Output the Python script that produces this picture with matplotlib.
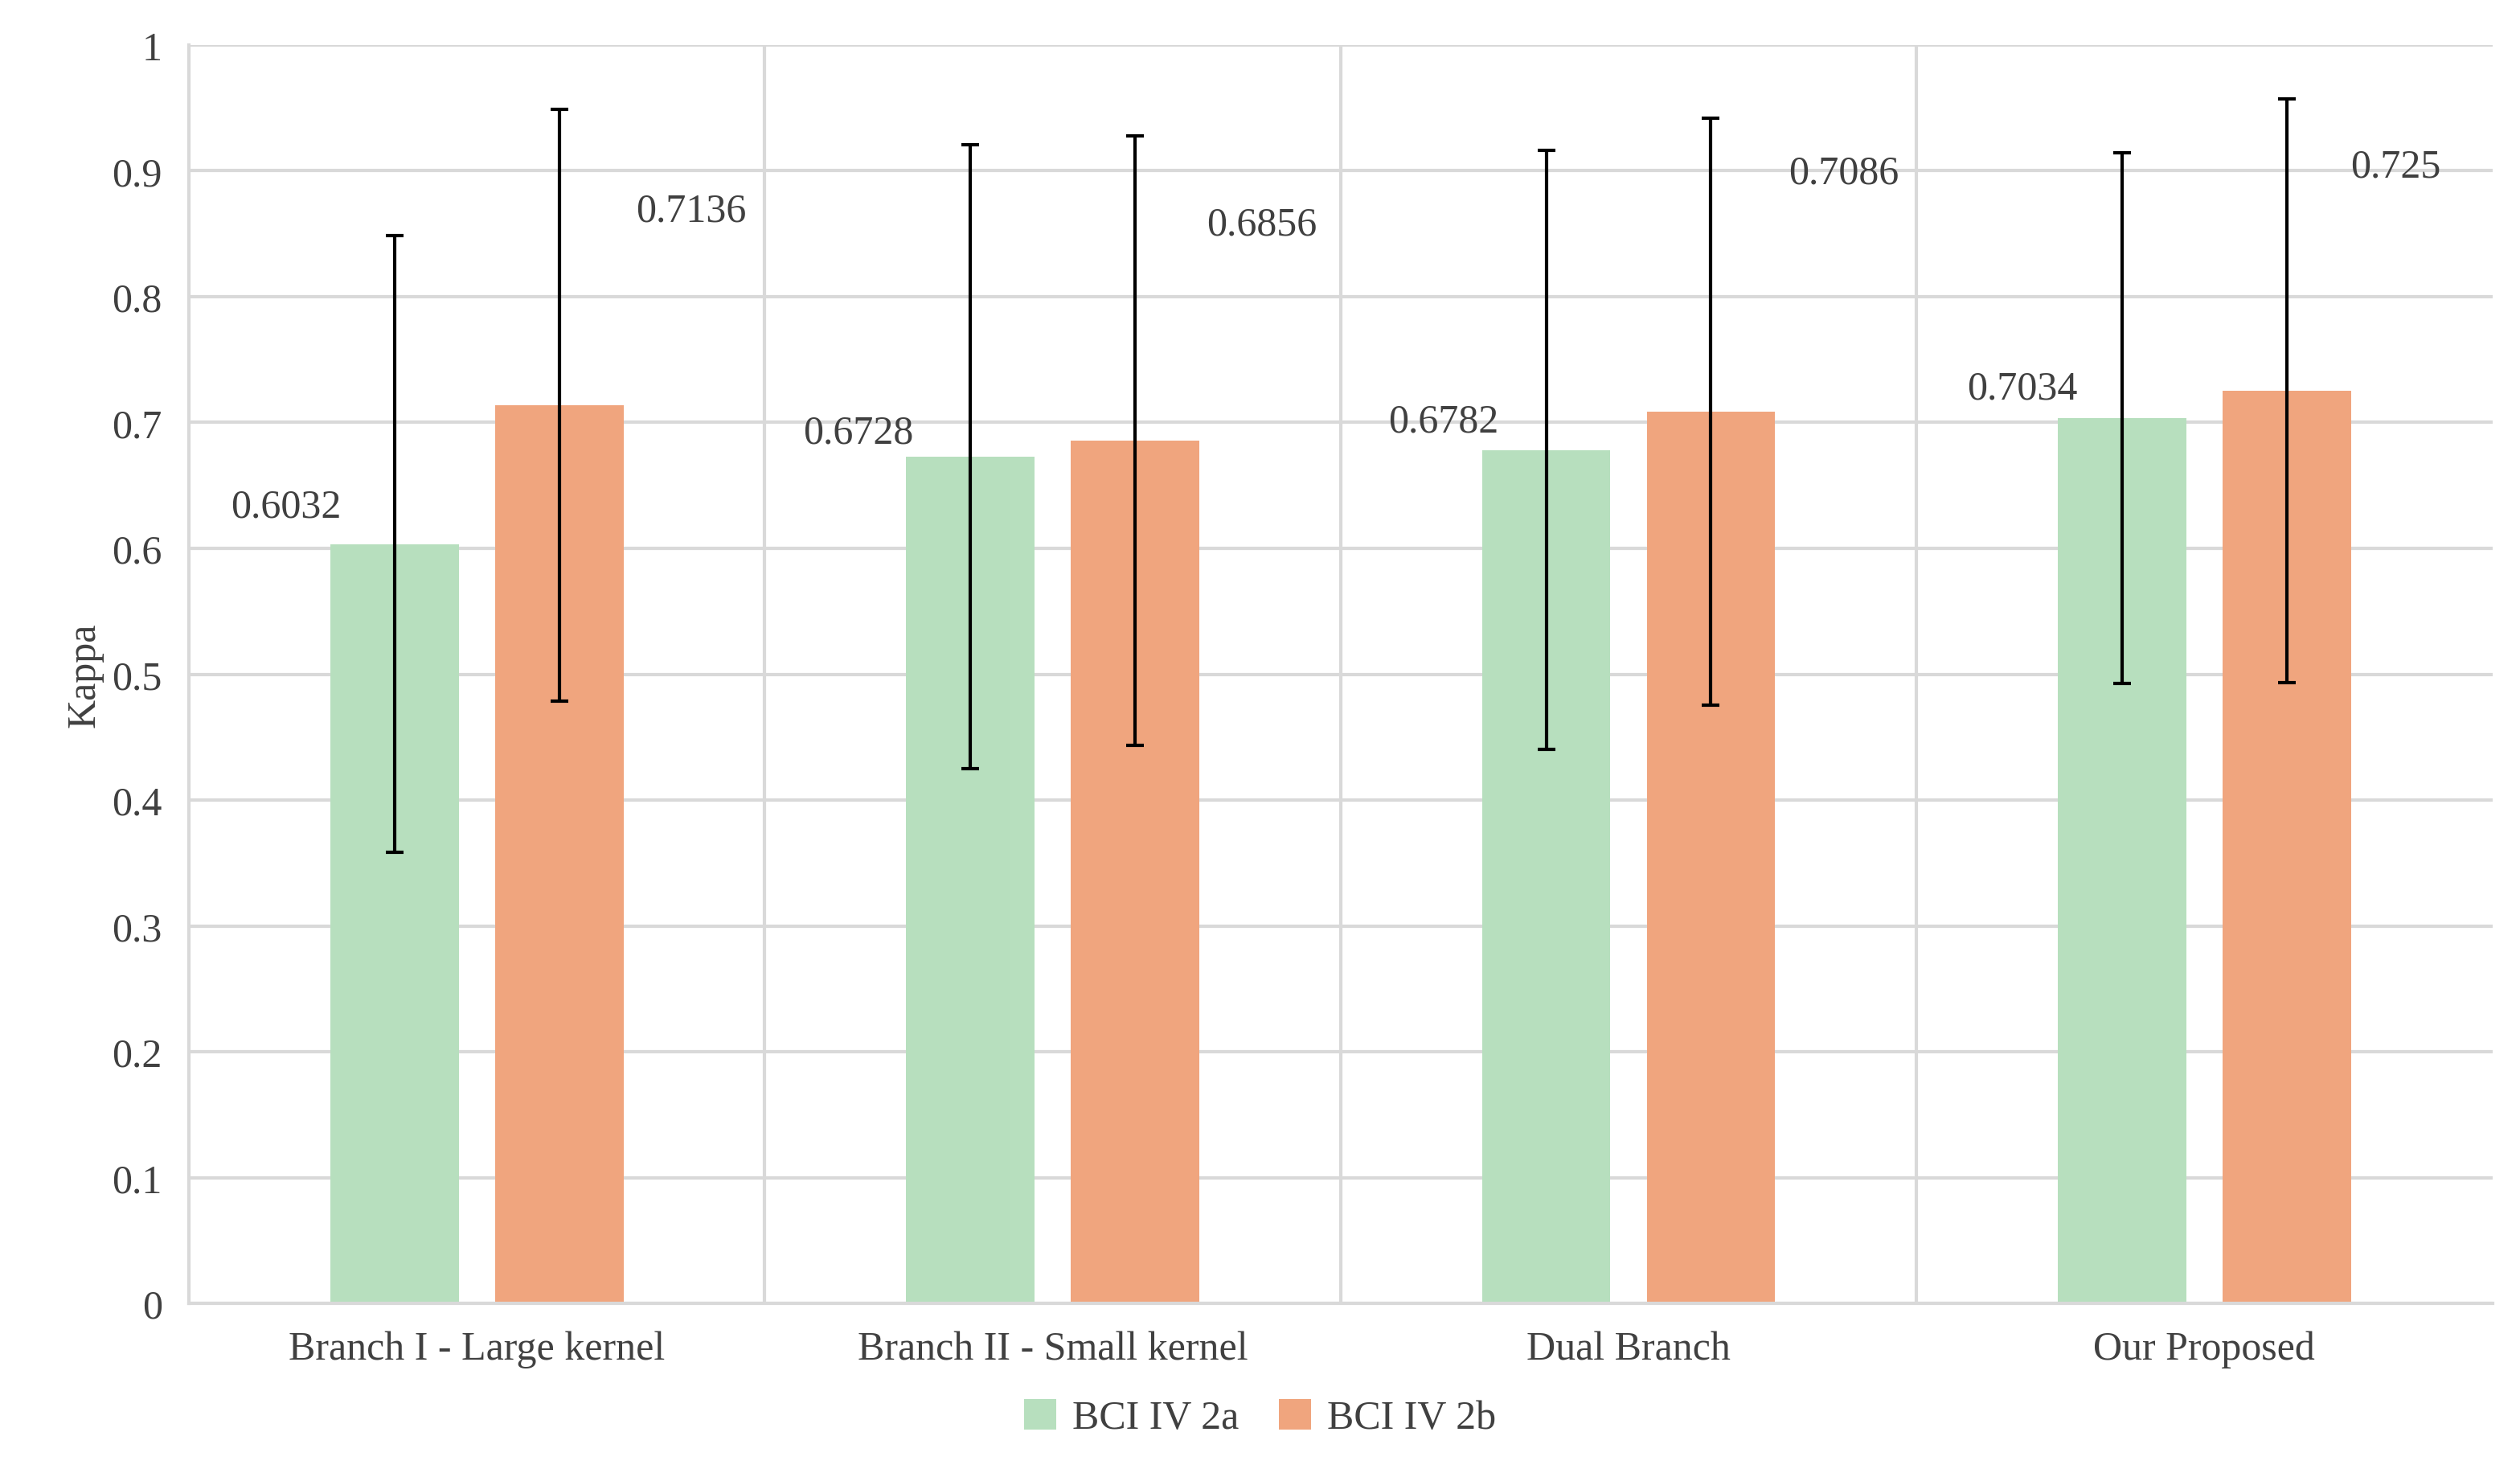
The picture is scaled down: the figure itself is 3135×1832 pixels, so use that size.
import matplotlib
matplotlib.use("Agg")
import matplotlib.pyplot as plt
import numpy as np

categories = ["Branch I - Large kernel", "Branch II - Small kernel", "Dual Branch", "Our Proposed"]
kappa_2a = [0.6032, 0.6728, 0.6782, 0.7034]
kappa_2b = [0.7136, 0.6856, 0.7086, 0.725]
err_2a = [0.245, 0.248, 0.238, 0.211]
err_2b = [0.235, 0.242, 0.233, 0.232]
labels_2a = ["0.6032", "0.6728", "0.6782", "0.7034"]
labels_2b = ["0.7136", "0.6856", "0.7086", "0.725"]

plt.rcParams["font.family"] = "Liberation Serif"
fig = plt.figure(figsize=(15.675, 9.165), dpi=200)
ax = fig.add_axes([0.075, 0.115, 0.914, 0.854])

x = np.arange(len(categories))
w = 0.223
off = 0.143
ax.bar(x - off, kappa_2a, w, color="#B7DFBE", label="BCI IV 2a", zorder=2)
ax.bar(x + off, kappa_2b, w, color="#F0A57E", label="BCI IV 2b", zorder=2)
ax.errorbar(x - off, kappa_2a, yerr=err_2a, fmt="none", ecolor="black", elinewidth=1.5, capsize=4, capthick=1.5, zorder=3)
ax.errorbar(x + off, kappa_2b, yerr=err_2b, fmt="none", ecolor="black", elinewidth=1.5, capsize=4, capthick=1.5, zorder=3)

# value labels, placed like the original (green left-top, orange right-high)
pos_2a = [(-0.332, 0.633), (0.662, 0.692), (1.679, 0.701), (2.684, 0.727)]
pos_2b = [(0.372, 0.868), (1.363, 0.857), (2.374, 0.898), (3.332, 0.903)]
for (px, py), t in zip(pos_2a, labels_2a):
    ax.text(px, py, t, ha="center", va="center", fontsize=18, color="#404040")
for (px, py), t in zip(pos_2b, labels_2b):
    ax.text(px, py, t, ha="center", va="center", fontsize=18, color="#404040")

ax.set_xlim(-0.5, 3.5)
ax.set_ylim(0, 1)
ax.set_yticks(np.arange(0, 1.01, 0.1))
ax.set_yticklabels(["0", "0.1", "0.2", "0.3", "0.4", "0.5", "0.6", "0.7", "0.8", "0.9", "1"])
ax.set_xticks(x)
ax.set_xticklabels(categories)
ax.tick_params(axis="both", length=0, labelsize=18, labelcolor="#404040", pad=12)
ax.grid(axis="y", color="#D9D9D9", linewidth=1.5, zorder=0)
for b in [0.5, 1.5, 2.5]:
    ax.axvline(b, color="#D9D9D9", linewidth=1.5, zorder=0)
for s in ["top", "right"]:
    ax.spines[s].set_visible(False)
ax.spines["left"].set_color("#D9D9D9")
ax.spines["bottom"].set_color("#D9D9D9")
ax.spines["left"].set_linewidth(1.5)
ax.spines["bottom"].set_linewidth(1.5)
ax.set_ylabel("Kappa", fontsize=18, color="#404040")

fig.legend(loc="lower center", bbox_to_anchor=(0.5, 0.0), ncol=2, frameon=False,
           fontsize=18, labelcolor="#404040", handlelength=0.8, handleheight=0.8, columnspacing=1.0, handletextpad=0.4)

fig.savefig("out.png")
